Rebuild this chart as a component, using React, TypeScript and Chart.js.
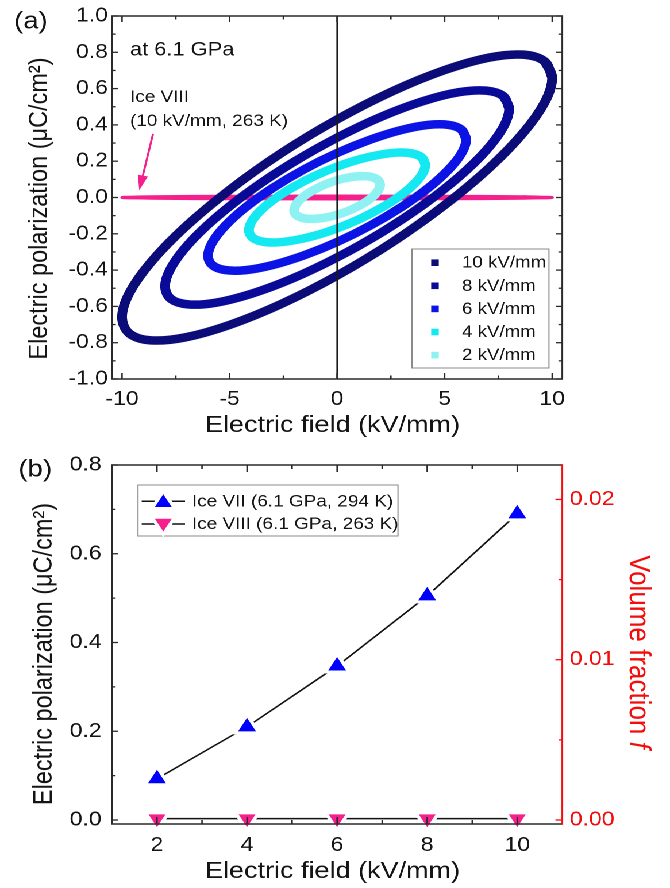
import React, { useEffect, useRef } from 'react';
import { Chart, registerables } from 'chart.js';

Chart.register(...registerables);

// ---------------- panel (a) data ----------------
const A_X_TICKS = [-10, -5, 0, 5, 10];
const A_X_MINOR = [-7.5, -2.5, 2.5, 7.5];
const A_Y_TICKS = [-1, -0.8, -0.6, -0.4, -0.2, 0, 0.2, 0.4, 0.6, 0.8, 1];
const A_Y_MINOR = [-0.9, -0.7, -0.5, -0.3, -0.1, 0.1, 0.3, 0.5, 0.7, 0.9];
const A_SERIES_LABELS = ['10 kV/mm', '8 kV/mm', '6 kV/mm', '4 kV/mm', '2 kV/mm'];
const A_SERIES_COLORS = ['#0c0c78', '#0a0a98', '#0b14e4', '#14e9f2', '#8ef2f2'];

// hysteresis loops (E in kV/mm, P in uC/cm2)
const LOOP_10KV = [[10, 0.66], [9.659, 0.749], [8.66, 0.787], [7.071, 0.771], [5, 0.702], [2.588, 0.586], [0, 0.43], [-2.588, 0.245], [-5, 0.042], [-7.071, -0.163], [-8.66, -0.357], [-9.659, -0.526], [-10, -0.66], [-9.659, -0.749], [-8.66, -0.787], [-7.071, -0.771], [-5, -0.702], [-2.588, -0.586], [0, -0.43], [2.588, -0.245], [5, -0.042], [7.071, 0.163], [8.66, 0.357], [9.659, 0.526]];
const LOOP_8KV = [[8, 0.49], [7.727, 0.559], [6.928, 0.589], [5.657, 0.58], [4, 0.531], [2.07, 0.446], [0, 0.33], [-2.07, 0.192], [-4, 0.041], [-5.657, -0.113], [-6.928, -0.259], [-7.727, -0.388], [-8, -0.49], [-7.727, -0.559], [-6.928, -0.589], [-5.657, -0.58], [-4, -0.531], [-2.07, -0.446], [0, -0.33], [2.07, -0.192], [4, -0.041], [5.657, 0.113], [6.928, 0.259], [7.727, 0.388]];
const LOOP_6KV = [[6, 0.32], [5.795, 0.373], [5.196, 0.4], [4.243, 0.4], [3, 0.372], [1.553, 0.319], [0, 0.245], [-1.553, 0.154], [-3, 0.052], [-4.243, -0.053], [-5.196, -0.155], [-5.795, -0.246], [-6, -0.32], [-5.795, -0.373], [-5.196, -0.4], [-4.243, -0.4], [-3, -0.372], [-1.553, -0.319], [0, -0.245], [1.553, -0.154], [3, -0.052], [4.243, 0.053], [5.196, 0.155], [5.795, 0.246]];
const LOOP_4KV = [[4.1, 0.18], [3.96, 0.218], [3.551, 0.241], [2.899, 0.248], [2.05, 0.237], [1.061, 0.211], [0, 0.17], [-1.061, 0.118], [-2.05, 0.057], [-2.899, -0.007], [-3.551, -0.071], [-3.96, -0.13], [-4.1, -0.18], [-3.96, -0.218], [-3.551, -0.241], [-2.899, -0.248], [-2.05, -0.237], [-1.061, -0.211], [0, -0.17], [1.061, -0.118], [2.05, -0.057], [2.899, 0.007], [3.551, 0.071], [3.96, 0.13]];
const LOOP_2KV = [[2, 0.07], [1.932, 0.092], [1.732, 0.108], [1.414, 0.117], [1, 0.117], [0.518, 0.11], [0, 0.095], [-0.518, 0.074], [-1, 0.047], [-1.414, 0.018], [-1.732, -0.013], [-1.932, -0.043], [-2, -0.07], [-1.932, -0.092], [-1.732, -0.108], [-1.414, -0.117], [-1, -0.117], [-0.518, -0.11], [0, -0.095], [0.518, -0.074], [1, -0.047], [1.414, -0.018], [1.732, 0.013], [1.932, 0.043]];
const LOOP_ICE8 = [[10, 0], [8.66, 0.004], [5, 0.007], [0, 0.008], [-5, 0.007], [-8.66, 0.004], [-10, 0], [-8.66, -0.004], [-5, -0.007], [0, -0.008], [5, -0.007], [8.66, -0.004]];
const ZERO_LINE_X = [0, 0];
const ZERO_LINE_Y = [-1, 1];

// ---------------- panel (b) data ----------------
const B_FIELD = [2, 4, 6, 8, 10];
const B_ICE7 = [0.093, 0.21, 0.347, 0.505, 0.69];
const B_ICE8 = [0.003, 0.003, 0.003, 0.003, 0.003];
const B_X_TICKS = [2, 4, 6, 8, 10];
const B_X_MINOR = [3, 5, 7, 9];
const B_Y_TICKS = [0, 0.2, 0.4, 0.6, 0.8];
const B_Y_MINOR = [0.1, 0.3, 0.5, 0.7];
const B_Y2_TICKS = [0, 0.01, 0.02];
const B_Y2_MINOR = [0.005, 0.015];
const B_LABELS = ['Ice VII (6.1 GPa, 294 K)', 'Ice VIII (6.1 GPa, 263 K)'];

// ---------------- look ----------------
const CW = 583;
const CH = 444;
const SX = 670 / CW;
const FONT = "'Liberation Sans', Arial, Helvetica, sans-serif";
const TEXT = '#141414';
const AXIS = '#2a2a2a';
const RED = '#f20c0c';
const PINK = '#f5208c';
const BLUE = '#0000ff';

const toPts = (pts: number[][]) => pts.map(([x, y]) => ({ x, y }));
const closed = (pts: number[][]) => toPts([...pts, pts[0], pts[1]]);

function seg(ctx: CanvasRenderingContext2D, x1: number, y1: number, x2: number, y2: number) {
  ctx.beginPath();
  ctx.moveTo(x1, y1);
  ctx.lineTo(x2, y2);
  ctx.stroke();
}

function tri(ctx: CanvasRenderingContext2D, x: number, y: number, r: number, rotDeg: number) {
  let rad = (rotDeg * Math.PI) / 180;
  const step = (2 * Math.PI) / 3;
  ctx.beginPath();
  ctx.moveTo(x + Math.sin(rad) * r, y - Math.cos(rad) * r);
  rad += step;
  ctx.lineTo(x + Math.sin(rad) * r, y - Math.cos(rad) * r);
  rad += step;
  ctx.lineTo(x + Math.sin(rad) * r, y - Math.cos(rad) * r);
  ctx.closePath();
}

const fixedTicks = (vals: number[]) => (s: any) => {
  s.ticks = vals.map((v) => ({ value: v }));
};

const panelAPlugin = {
  id: 'panelA',
  afterDraw(chart: any) {
    const { ctx, chartArea: ca } = chart;
    const xs = chart.scales.x;
    const ys = chart.scales.y;
    ctx.save();
    // frame + inward ticks on all sides
    ctx.strokeStyle = AXIS;
    ctx.lineWidth = 1.5;
    ctx.strokeRect(ca.left, ca.top, ca.right - ca.left, ca.bottom - ca.top);
    ctx.lineWidth = 1.3;
    const xTick = (v: number, len: number) => {
      const p = xs.getPixelForValue(v);
      seg(ctx, p, ca.bottom, p, ca.bottom - len);
      seg(ctx, p, ca.top, p, ca.top + len);
    };
    const yTick = (v: number, len: number) => {
      const p = ys.getPixelForValue(v);
      seg(ctx, ca.left, p, ca.left + len, p);
      seg(ctx, ca.right, p, ca.right - len, p);
    };
    A_X_TICKS.forEach((v) => xTick(v, 6));
    A_X_MINOR.forEach((v) => xTick(v, 3.5));
    A_Y_TICKS.forEach((v) => yTick(v, 5.6));
    A_Y_MINOR.forEach((v) => yTick(v, 3.4));

    // titles
    ctx.fillStyle = TEXT;
    ctx.textBaseline = 'alphabetic';
    ctx.font = `24px ${FONT}`;
    ctx.textAlign = 'left';
    ctx.fillText('(a)', 12.2, 28.3);
    ctx.font = `23.5px ${FONT}`;
    ctx.textAlign = 'center';
    ctx.fillText('Electric field (kV/mm)', (ca.left + ca.right) / 2 - 4, ca.bottom + 53);
    ctx.save();
    ctx.translate(41, (ca.top + ca.bottom) / 2 + 11);
    ctx.rotate(-Math.PI / 2);
    ctx.fillText('Electric polarization (\u03bcC/cm\u00b2)', 0, 0);
    ctx.restore();

    // annotations
    ctx.textAlign = 'left';
    ctx.font = `19px ${FONT}`;
    const tx = xs.getPixelForValue(-9.63);
    ctx.fillText('at 6.1 GPa', tx, ys.getPixelForValue(0.782));
    ctx.font = `16.5px ${FONT}`;
    ctx.fillText('Ice VIII', tx, ys.getPixelForValue(0.525));
    ctx.fillText('(10 kV/mm, 263 K)', tx, ys.getPixelForValue(0.393));

    // arrow
    const ax1 = xs.getPixelForValue(-8.56);
    const ay1 = ys.getPixelForValue(0.35);
    const ax2 = xs.getPixelForValue(-9.2);
    const ay2 = ys.getPixelForValue(0.04);
    const ang = Math.atan2(ay2 - ay1, ax2 - ax1);
    const hl = 15;
    const hw = 4.5;
    const bx = ax2 - hl * Math.cos(ang);
    const by = ay2 - hl * Math.sin(ang);
    ctx.strokeStyle = PINK;
    ctx.fillStyle = PINK;
    ctx.lineWidth = 1.8;
    seg(ctx, ax1, ay1, bx, by);
    ctx.beginPath();
    ctx.moveTo(ax2, ay2);
    ctx.lineTo(bx + hw * Math.sin(ang), by - hw * Math.cos(ang));
    ctx.lineTo(bx - hw * Math.sin(ang), by + hw * Math.cos(ang));
    ctx.closePath();
    ctx.fill();

    // legend
    const lx0 = ca.right - 130.8;
    const ly0 = ca.bottom - 130;
    const lx1 = ca.right - 11.6;
    const ly1 = ca.bottom - 11;
    ctx.fillStyle = '#ffffff';
    ctx.fillRect(lx0, ly0, lx1 - lx0, ly1 - ly0);
    ctx.strokeStyle = '#8a8a8a';
    ctx.lineWidth = 1;
    ctx.strokeRect(lx0, ly0, lx1 - lx0, ly1 - ly0);
    ctx.font = `16.3px ${FONT}`;
    ctx.textAlign = 'left';
    ctx.textBaseline = 'middle';
    const ds = chart.data.datasets;
    for (let i = 0; i < 5; i++) {
      const ry = ly0 + 13.7 + i * 23.1;
      ctx.fillStyle = ds[i].borderColor;
      ctx.fillRect(lx0 + 20 - 3.3, ry - 3.3, 6.6, 6.6);
      ctx.fillStyle = TEXT;
      ctx.fillText(ds[i].label, lx0 + 43.5, ry + 0.5);
    }
    ctx.restore();
  },
};

const panelBPlugin = {
  id: 'panelB',
  afterDraw(chart: any) {
    const { ctx, chartArea: ca } = chart;
    const xs = chart.scales.x;
    const ys = chart.scales.y;
    const ys2 = chart.scales.y1;
    ctx.save();
    ctx.lineWidth = 1.5;
    ctx.strokeStyle = AXIS;
    seg(ctx, ca.left - 0.75, ca.bottom, ca.right, ca.bottom);
    seg(ctx, ca.left - 0.75, ca.top, ca.right, ca.top);
    seg(ctx, ca.left, ca.top, ca.left, ca.bottom);
    ctx.strokeStyle = RED;
    seg(ctx, ca.right, ca.top - 0.75, ca.right, ca.bottom + 0.75);

    ctx.lineWidth = 1.3;
    ctx.strokeStyle = AXIS;
    const xTick = (v: number, len: number) => {
      const p = xs.getPixelForValue(v);
      seg(ctx, p, ca.bottom, p, ca.bottom - len);
      seg(ctx, p, ca.top, p, ca.top + len);
    };
    B_X_TICKS.forEach((v) => xTick(v, 7));
    B_X_MINOR.forEach((v) => xTick(v, 4));
    B_Y_TICKS.forEach((v) => {
      const p = ys.getPixelForValue(v);
      seg(ctx, ca.left, p, ca.left + 5.6, p);
    });
    B_Y_MINOR.forEach((v) => {
      const p = ys.getPixelForValue(v);
      seg(ctx, ca.left, p, ca.left + 3.2, p);
    });
    ctx.strokeStyle = RED;
    B_Y2_TICKS.forEach((v) => {
      const p = ys2.getPixelForValue(v);
      seg(ctx, ca.right, p, ca.right - 6, p);
    });
    B_Y2_MINOR.forEach((v) => {
      const p = ys2.getPixelForValue(v);
      seg(ctx, ca.right, p, ca.right - 3.2, p);
    });

    // titles
    ctx.fillStyle = TEXT;
    ctx.textBaseline = 'alphabetic';
    ctx.font = `24px ${FONT}`;
    ctx.textAlign = 'left';
    ctx.fillText('(b)', 16, 32.5);
    ctx.font = `23.5px ${FONT}`;
    ctx.textAlign = 'center';
    ctx.fillText('Electric field (kV/mm)', (ca.left + ca.right) / 2 - 4, ca.bottom + 54);
    ctx.save();
    ctx.translate(45, (ca.top + ca.bottom) / 2 + 9.5);
    ctx.rotate(-Math.PI / 2);
    ctx.fillText('Electric polarization (\u03bcC/cm\u00b2)', 0, 0);
    ctx.restore();

    // right title (red, italic f)
    ctx.save();
    ctx.fillStyle = RED;
    ctx.textAlign = 'left';
    const part1 = 'Volume fraction ';
    ctx.font = `26px ${FONT}`;
    const w1 = ctx.measureText(part1).width;
    ctx.font = `italic 26px ${FONT}`;
    const w2 = ctx.measureText('f').width;
    const cy = (ca.top + ca.bottom) / 2 + 7.5;
    ctx.translate(ca.right + 58.7, cy - (w1 + w2) / 2);
    ctx.rotate(Math.PI / 2);
    ctx.font = `26px ${FONT}`;
    ctx.fillText(part1, 0, 0);
    ctx.font = `italic 26px ${FONT}`;
    ctx.fillText('f', w1, 0);
    ctx.restore();

    // legend
    const lx0 = ca.left + 22.7;
    const ly0 = ca.top + 20;
    const lx1 = ca.left + 248.9;
    const ly1 = ca.top + 71;
    ctx.fillStyle = '#ffffff';
    ctx.fillRect(lx0, ly0, lx1 - lx0, ly1 - ly0);
    ctx.strokeStyle = '#8a8a8a';
    ctx.lineWidth = 1;
    ctx.strokeRect(lx0, ly0, lx1 - lx0, ly1 - ly0);
    const ds = chart.data.datasets;
    ctx.font = `16.5px ${FONT}`;
    ctx.textAlign = 'left';
    ctx.textBaseline = 'middle';
    for (let i = 0; i < 2; i++) {
      const ry = ca.top + 36.3 + i * 22.7;
      ctx.strokeStyle = '#111111';
      ctx.lineWidth = 1.5;
      seg(ctx, ca.left + 25.9, ry, ca.left + 63.6, ry);
      const rot = ds[i].pointRotation || 0;
      tri(ctx, ca.left + 44.7, ry + (rot ? -1 : 1.5), 11.5, rot);
      ctx.fillStyle = ds[i].pointBackgroundColor;
      ctx.fill();
      ctx.strokeStyle = '#ffffff';
      ctx.lineWidth = 3;
      ctx.stroke();
      ctx.fillStyle = TEXT;
      ctx.fillText(ds[i].label, ca.left + 69.6, ry + 0.5);
    }
    ctx.restore();
  },
};

function configA(): any {
  const loops = [LOOP_10KV, LOOP_8KV, LOOP_6KV, LOOP_4KV, LOOP_2KV];
  const datasets: any[] = loops.map((pts, i) => ({
    label: A_SERIES_LABELS[i],
    data: closed(pts),
    showLine: true,
    borderColor: A_SERIES_COLORS[i],
    backgroundColor: A_SERIES_COLORS[i],
    borderWidth: 8.5,
    tension: 0.35,
    pointRadius: 0,
    borderJoinStyle: 'round',
    borderCapStyle: 'round',
    clip: false,
    order: 2 + i,
  }));
  datasets.push({
    label: 'Ice VIII (10 kV/mm, 263 K)',
    data: closed(LOOP_ICE8),
    showLine: true,
    borderColor: PINK,
    backgroundColor: PINK,
    borderWidth: 3,
    tension: 0.35,
    pointRadius: 0,
    clip: false,
    order: 10,
  });
  datasets.push({
    label: 'E = 0',
    data: ZERO_LINE_X.map((x, i) => ({ x, y: ZERO_LINE_Y[i] })),
    showLine: true,
    borderColor: '#1a1a1a',
    borderWidth: 1.3,
    pointRadius: 0,
    order: 0,
  });
  return {
    type: 'scatter',
    data: { datasets },
    options: {
      responsive: false,
      animation: false,
      devicePixelRatio: 2,
      events: [],
      layout: { padding: { top: 16, right: CW - 489.3, left: 0, bottom: 0 } },
      plugins: { legend: { display: false }, tooltip: { enabled: false } },
      scales: {
        x: {
          type: 'linear',
          min: -10.47,
          max: 10.47,
          afterBuildTicks: fixedTicks(A_X_TICKS),
          afterFit: (s: any) => {
            s.height = CH - 379;
          },
          grid: { display: false, drawTicks: false },
          border: { display: false },
          ticks: {
            autoSkip: false,
            maxRotation: 0,
            padding: 8.4,
            color: TEXT,
            font: { family: FONT, size: 20 },
            callback: (v: number) => String(v),
          },
        },
        y: {
          type: 'linear',
          min: -1,
          max: 1,
          afterBuildTicks: fixedTicks(A_Y_TICKS),
          afterFit: (s: any) => {
            s.width = 97.4;
          },
          grid: { display: false, drawTicks: false },
          border: { display: false },
          ticks: {
            autoSkip: false,
            padding: 3.5,
            color: TEXT,
            font: { family: FONT, size: 20 },
            callback: (v: number) => Number(v).toFixed(1),
          },
        },
      },
    },
    plugins: [panelAPlugin],
  };
}

function configB(): any {
  return {
    type: 'scatter',
    data: {
      datasets: [
        {
          label: B_LABELS[0],
          data: B_FIELD.map((x, i) => ({ x, y: B_ICE7[i] })),
          showLine: true,
          borderColor: '#111111',
          borderWidth: 1.5,
          tension: 0,
          pointStyle: 'triangle',
          pointRadius: 12,
          pointBackgroundColor: BLUE,
          pointBorderColor: '#ffffff',
          pointBorderWidth: 3,
          yAxisID: 'y',
          clip: false,
        },
        {
          label: B_LABELS[1],
          data: B_FIELD.map((x, i) => ({ x, y: B_ICE8[i] })),
          showLine: true,
          borderColor: '#111111',
          borderWidth: 1.5,
          tension: 0,
          pointStyle: 'triangle',
          pointRotation: 180,
          pointRadius: 11.5,
          pointBackgroundColor: PINK,
          pointBorderColor: '#ffffff',
          pointBorderWidth: 3,
          yAxisID: 'y',
          clip: false,
        },
      ],
    },
    options: {
      responsive: false,
      animation: false,
      devicePixelRatio: 2,
      events: [],
      layout: { padding: { top: 18, right: 0, left: 0, bottom: 0 } },
      plugins: { legend: { display: false }, tooltip: { enabled: false } },
      scales: {
        x: {
          type: 'linear',
          min: 1,
          max: 11,
          afterBuildTicks: fixedTicks(B_X_TICKS),
          afterFit: (s: any) => {
            s.height = CH - 380;
          },
          grid: { display: false, drawTicks: false },
          border: { display: false },
          ticks: {
            autoSkip: false,
            maxRotation: 0,
            padding: 9.4,
            color: TEXT,
            font: { family: FONT, size: 20 },
            callback: (v: number) => String(v),
          },
        },
        y: {
          type: 'linear',
          position: 'left',
          min: -0.009,
          max: 0.8,
          afterBuildTicks: fixedTicks(B_Y_TICKS),
          afterFit: (s: any) => {
            s.width = 97.4;
          },
          grid: { display: false, drawTicks: false },
          border: { display: false },
          ticks: {
            autoSkip: false,
            padding: 9,
            color: TEXT,
            font: { family: FONT, size: 20 },
            callback: (v: number) => Number(v).toFixed(1),
          },
        },
        y1: {
          type: 'linear',
          position: 'right',
          min: -0.00025,
          max: 0.02215,
          afterBuildTicks: fixedTicks(B_Y2_TICKS),
          afterFit: (s: any) => {
            s.width = CW - 489.3;
          },
          grid: { display: false, drawTicks: false },
          border: { display: false },
          ticks: {
            autoSkip: false,
            padding: 6.5,
            color: RED,
            font: { family: FONT, size: 20 },
            callback: (v: number) => Number(v).toFixed(2),
          },
        },
      },
    },
    plugins: [panelBPlugin],
  };
}

export default function App() {
  const refA = useRef<HTMLCanvasElement>(null);
  const refB = useRef<HTMLCanvasElement>(null);
  useEffect(() => {
    const a = new Chart(refA.current as HTMLCanvasElement, configA());
    const b = new Chart(refB.current as HTMLCanvasElement, configB());
    return () => {
      a.destroy();
      b.destroy();
    };
  }, []);
  return (
    <div
      style={{
        position: 'absolute',
        left: 0,
        top: 0,
        width: CW,
        height: 2 * CH,
        background: '#ffffff',
        transform: `scaleX(${SX})`,
        transformOrigin: '0 0',
      }}
    >
      <canvas ref={refA} width={CW} height={CH} style={{ display: 'block', width: CW, height: CH }} />
      <canvas ref={refB} width={CW} height={CH} style={{ display: 'block', width: CW, height: CH }} />
    </div>
  );
}
